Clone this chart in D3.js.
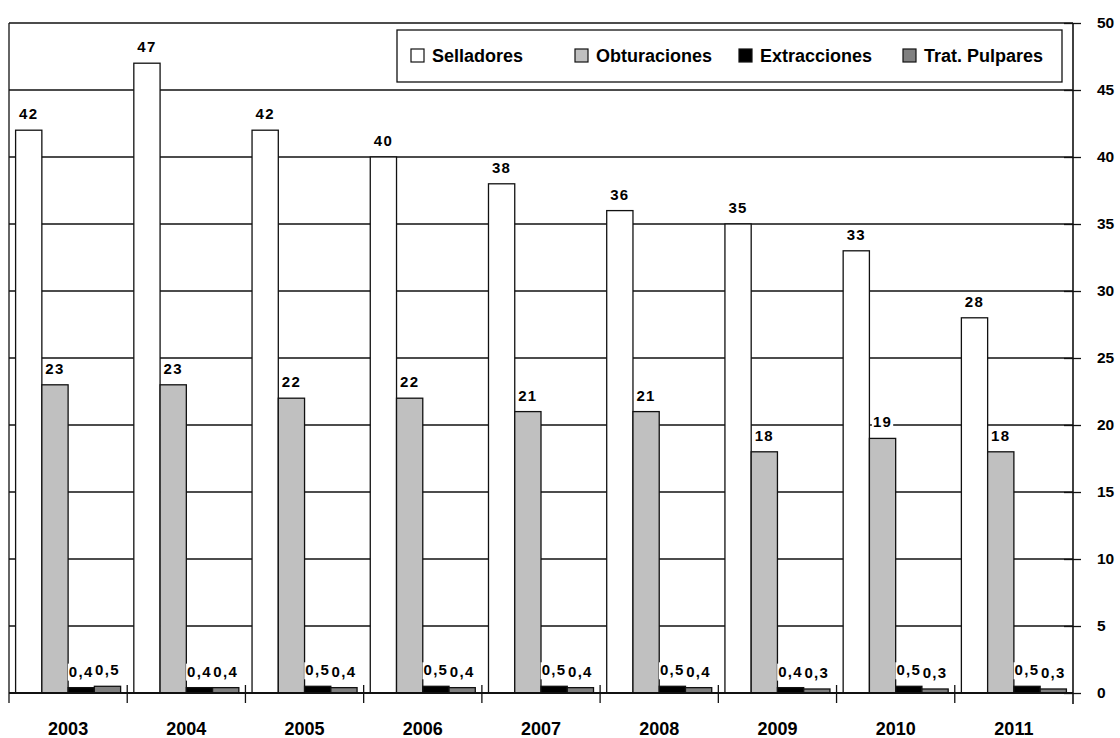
<!DOCTYPE html>
<html>
<head>
<meta charset="utf-8">
<script src="https://cdn.jsdelivr.net/npm/d3@7"></script>
<style>
  html, body { margin: 0; padding: 0; background: #fff; }
  svg { display: block; font-family: "Liberation Sans", Arial, sans-serif; }
</style>
</head>
<body>
<svg id="chart" width="1120" height="738"></svg>
<script>
// Years on the horizontal axis
const years = ["2003", "2004", "2005", "2006", "2007", "2008", "2009", "2010", "2011"];

// Series names shown in the legend
const seriesNames = ["Selladores", "Obturaciones", "Extracciones", "Trat. Pulpares"];

// Values per series, one per year
const selladores    = [42, 47, 42, 40, 38, 36, 35, 33, 28];
const obturaciones  = [23, 23, 22, 22, 21, 21, 18, 19, 18];
const extracciones  = [0.4, 0.4, 0.5, 0.5, 0.5, 0.5, 0.4, 0.5, 0.5];
const tratPulpares  = [0.5, 0.4, 0.4, 0.4, 0.4, 0.4, 0.3, 0.3, 0.3];

// Right-hand axis ticks
const yTicks = [0, 5, 10, 15, 20, 25, 30, 35, 40, 45, 50];

const seriesValues = [selladores, obturaciones, extracciones, tratPulpares];
const fills = ["#ffffff", "#c0c0c0", "#000000", "#808080"];

const svg = d3.select("#chart");

const plotLeft = 9, plotRight = 1073, plotTop = 23, plotBottom = 693;

const x0 = d3.scaleBand().domain(years).range([plotLeft, plotRight]).padding(0);
const x1 = d3.scaleBand().domain(seriesNames)
  .range([6.6, x0.bandwidth() - 6.6]).padding(0);
const y = d3.scaleLinear().domain([0, 50]).range([plotBottom, plotTop]);

// Horizontal gridlines (including the top frame line)
svg.append("g")
  .selectAll("line")
  .data(yTicks.filter(t => t > 0))
  .join("line")
  .attr("x1", plotLeft).attr("x2", plotRight)
  .attr("y1", d => y(d)).attr("y2", d => y(d))
  .attr("stroke", "#111").attr("stroke-width", 1.3);

// Left frame line
svg.append("line")
  .attr("x1", plotLeft).attr("x2", plotLeft)
  .attr("y1", plotTop).attr("y2", plotBottom + 10)
  .attr("stroke", "#111").attr("stroke-width", 1.3);

// Bars
const rows = years.map((yr, i) => ({
  year: yr,
  items: seriesNames.map((s, k) => ({ series: s, k, value: seriesValues[k][i] }))
}));

const groups = svg.append("g")
  .selectAll("g")
  .data(rows)
  .join("g")
  .attr("transform", d => `translate(${x0(d.year)},0)`);

groups.selectAll("rect")
  .data(d => d.items)
  .join("rect")
  .attr("x", d => x1(d.series))
  .attr("width", x1.bandwidth())
  .attr("y", d => y(d.value))
  .attr("height", d => y(0) - y(d.value))
  .attr("fill", d => fills[d.k])
  .attr("stroke", "#111")
  .attr("stroke-width", 1.3);

// Right axis
const yAxis = d3.axisRight(y).tickValues(yTicks).tickSize(0).tickPadding(24);
const ay = svg.append("g").attr("transform", `translate(${plotRight},0)`).call(yAxis);
ay.select(".domain").remove();
ay.selectAll(".tick text")
  .attr("font-size", 15.5).attr("font-weight", "bold").attr("fill", "#000");
ay.selectAll(".tick").append("line")
  .attr("x1", -9).attr("x2", 8)
  .attr("stroke", "#111").attr("stroke-width", 1.3);
svg.append("line")
  .attr("x1", plotRight).attr("x2", plotRight)
  .attr("y1", plotTop).attr("y2", plotBottom + 11)
  .attr("stroke", "#111").attr("stroke-width", 1.6);

// Bottom axis
const xAxis = d3.axisBottom(x0).tickSize(0).tickPadding(29);
const ax = svg.append("g").attr("transform", `translate(0,${plotBottom})`).call(xAxis);
ax.select(".domain").remove();
ax.selectAll(".tick text")
  .attr("font-size", 18).attr("font-weight", "bold").attr("fill", "#000");
svg.append("line")
  .attr("x1", plotLeft).attr("x2", plotRight)
  .attr("y1", plotBottom).attr("y2", plotBottom)
  .attr("stroke", "#111").attr("stroke-width", 2);
svg.append("g")
  .selectAll("line")
  .data(years.slice(1))
  .join("line")
  .attr("x1", d => x0(d)).attr("x2", d => x0(d))
  .attr("y1", plotBottom - 8).attr("y2", plotBottom + 10)
  .attr("stroke", "#111").attr("stroke-width", 1.3);

// Value labels with white backing
const fmt = v => String(v).replace(".", ",");
const labels = groups.selectAll("g.lbl")
  .data(d => d.items)
  .join("g").attr("class", "lbl");
labels.append("rect").attr("fill", "#fff");
labels.append("text")
  .attr("x", d => x1(d.series) + x1.bandwidth() / 2)
  .attr("y", d => y(d.value) - 11)
  .attr("text-anchor", "middle")
  .attr("font-size", 15)
  .attr("font-weight", "bold")
  .attr("letter-spacing", 1.3)
  .attr("fill", "#000")
  .text(d => fmt(d.value));
labels.each(function() {
  const g = d3.select(this);
  const b = g.select("text").node().getBBox();
  g.select("rect")
    .attr("x", b.x - 1).attr("y", b.y + 1)
    .attr("width", b.width + 2).attr("height", b.height);
});

// Legend
const legend = svg.append("g");
legend.append("rect")
  .attr("x", 397).attr("y", 30).attr("width", 665).attr("height", 52)
  .attr("fill", "#fff").attr("stroke", "#111").attr("stroke-width", 1.3);
const legendX = [411, 575, 739, 903];
const li = legend.selectAll("g.item")
  .data(seriesNames)
  .join("g").attr("class", "item")
  .attr("transform", (d, i) => `translate(${legendX[i]},49)`);
li.append("rect")
  .attr("width", 13).attr("height", 13)
  .attr("fill", (d, i) => fills[i])
  .attr("stroke", "#111").attr("stroke-width", 1.2);
li.append("text")
  .attr("x", 21).attr("y", 13)
  .attr("font-size", 18).attr("font-weight", "bold").attr("fill", "#000")
  .text(d => d);
</script>
</body>
</html>
